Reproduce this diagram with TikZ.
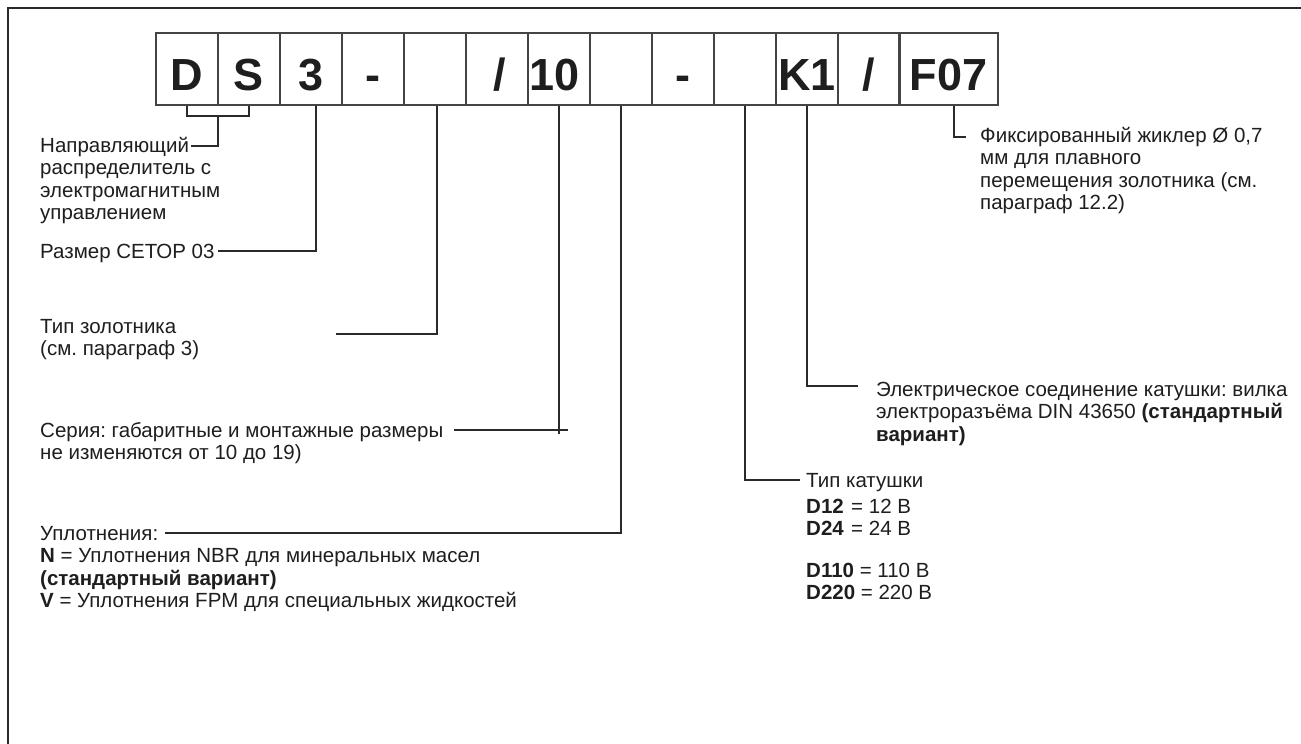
\documentclass[tikz,border=0pt]{standalone}
\usepackage{fontspec}
\setmainfont{Liberation Sans}
\frenchspacing
\definecolor{txt}{HTML}{1E1E1E}
\definecolor{linec}{HTML}{2A2A2A}
\definecolor{boxc}{HTML}{444444}
\begin{document}
\begin{tikzpicture}[x=1pt,y=-1pt,
  cell/.style={draw=boxc, line width=1.3pt, minimum width=62pt, minimum height=72pt, inner sep=0pt,
    font=\fontsize{45}{45}\selectfont\bfseries, text=txt, text height=42pt, text depth=0pt},
  lbl/.style={anchor=north west, align=left, inner sep=0pt, font=\fontsize{20.5}{22.5}\selectfont, text=txt},
  conn/.style={draw=linec, line width=1.4pt}]
\useasboundingbox (0,0) rectangle (1301,744);
\fill[white] (0,0) rectangle (1301,744);
\draw[line width=2pt, draw=linec] (8,744) -- (8,8) -- (1301,8);
% code boxes
\node[cell] (b1) at (187,69) {D};
\node[cell] (b2) at (249,69) {S};
\node[cell] (b3) at (311,69) {3};
\node[cell] (b4) at (373,69) {-};
\node[cell] (b5) at (435,69) {};
\node[cell] (b6) at (497,69) {\hspace*{6pt}/};
\node[cell] (b7) at (559,69) {10\hspace*{8pt}};
\node[cell] (b8) at (621,69) {};
\node[cell] (b9) at (683,69) {-};
\node[cell] (b10) at (745,69) {};
\node[cell] (b11) at (807,69) {K1};
\node[cell] (b12) at (869,69) {/};
\node[cell, minimum width=99pt] (b13) at (948.5,69) {F07};
% labels
\node[lbl] (l1) at (40,136.25) {\strut Направляющий\\распределитель с\\электромагнитным\\управлением};
\node[lbl] (l2) at (40,242.25) {\strut Размер СЕТОР 03};
\node[lbl] (l3) at (40,317.25) {\strut Тип золотника\\(см. параграф 3)};
\node[lbl] (l4) at (40,421.25) {\strut Серия: габаритные и монтажные размеры\\не изменяются от 10 до 19)};
\node[lbl] (l5) at (40,524.25) {\strut Уплотнения:\\\textbf{N} = Уплотнения NBR для минеральных масел\\\textbf{(стандартный вариант)}\\\textbf{V} = Уплотнения FPM для специальных жидкостей};
\node[lbl] (l6) at (806,471.25) {\strut Тип катушки};
\node[lbl] (l7) at (806,497.25) {\strut\makebox[45pt][l]{\textbf{D12}}= 12 В\\\makebox[45pt][l]{\textbf{D24}}= 24 В};
\node[lbl] (l8) at (806,561.25) {\strut\textbf{D110} = 110 В\\\textbf{D220} = 220 В};
\node[lbl] (l9) at (876,380.25) {\strut Электрическое соединение катушки: вилка\\электроразъёма DIN 43650 \textbf{(стандартный}\\\textbf{вариант)}};
\node[lbl] (l10) at (980,126.25) {\strut Фиксированный жиклер Ø 0,7\\мм для плавного\\перемещения золотника (см.\\параграф 12.2)};
% connectors
\coordinate (ds) at (218,116);
\coordinate (e1) at (191,146);
\coordinate (e2) at (218,251);
\coordinate (e3) at (336,334);
\coordinate (e4) at (454,430);
\coordinate (e5) at (165,533);
\coordinate (e6) at (800,480);
\coordinate (e9) at (858,386);
\coordinate (e10) at (966,137);
\draw[conn] (b1.south) |- (ds) -| (b2.south);
\draw[conn] (ds) |- (e1);
\draw[conn] ([xshift=5pt]b3.south) |- (e2);
\draw[conn] ([xshift=2pt]b5.south) |- (e3);
\draw[conn] (b7.south) -- ++(0,328);
\draw[conn] (e4) -- ++(114,0);
\draw[conn] (b8.south) |- (e5);
\draw[conn] (b10.south) |- (e6);
\draw[conn] (b11.south) |- (e9);
\draw[conn] ([xshift=5.5pt]b13.south) |- (e10);
\end{tikzpicture}
\end{document}
